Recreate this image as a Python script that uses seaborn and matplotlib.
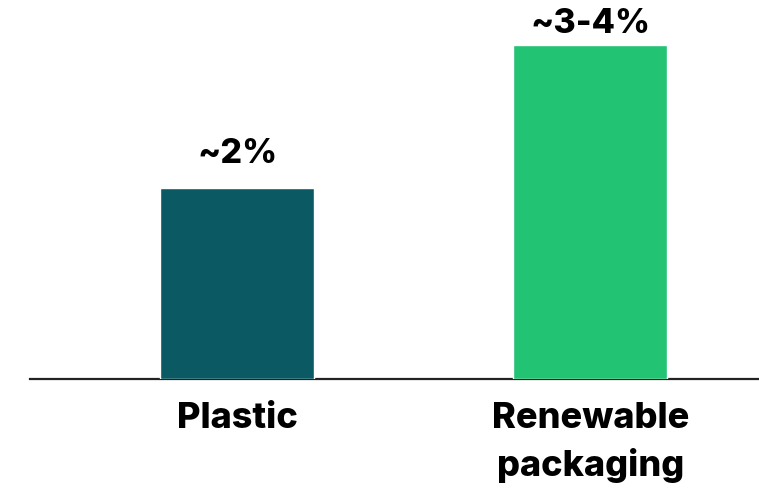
import matplotlib
matplotlib.use("Agg")
import matplotlib.pyplot as plt
import seaborn as sns
import pandas as pd

# Data
categories = ["Plastic", "Renewable\npackaging"]
values = [2.0, 3.5]
value_labels = ["~2%", "~3-4%"]
colors = ["#0B5A63", "#22C373"]
label_pads = [14, 4]

sns.set_style("white")
plt.rcParams['font.family'] = ['Inter', 'DejaVu Sans']

df = pd.DataFrame({"category": categories, "value": values})

fig = plt.figure(figsize=(7.59, 4.89), dpi=100)
ax = fig.add_axes([30 / 759, 109 / 489, 729 / 759, 380 / 489])

sns.barplot(data=df, x="category", y="value", hue="category",
            palette=colors, width=0.436, legend=False, ax=ax, saturation=1)

for container, lab, pad in zip(ax.containers, value_labels, label_pads):
    ax.bar_label(container, labels=[lab], padding=pad, fontsize=24.5,
                 fontweight='heavy', color='black')

ax.set_xlim(-0.586, 1.477)
ax.set_ylim(0, 3.979)

sns.despine(ax=ax, left=True, top=True, right=True)
ax.spines['bottom'].set_color('#222222')
ax.spines['bottom'].set_linewidth(1.6)
ax.spines['bottom'].set_zorder(0)
ax.set_yticks([])
ax.set_xlabel("")
ax.set_ylabel("")
ax.tick_params(axis='x', length=0, pad=16, colors='black')
for t in ax.get_xticklabels():
    t.set_fontsize(26)
    t.set_fontweight('heavy')
    t.set_multialignment('center')
    t.set_linespacing(1.45)

plt.savefig('out.png', dpi=100)
plt.close()
